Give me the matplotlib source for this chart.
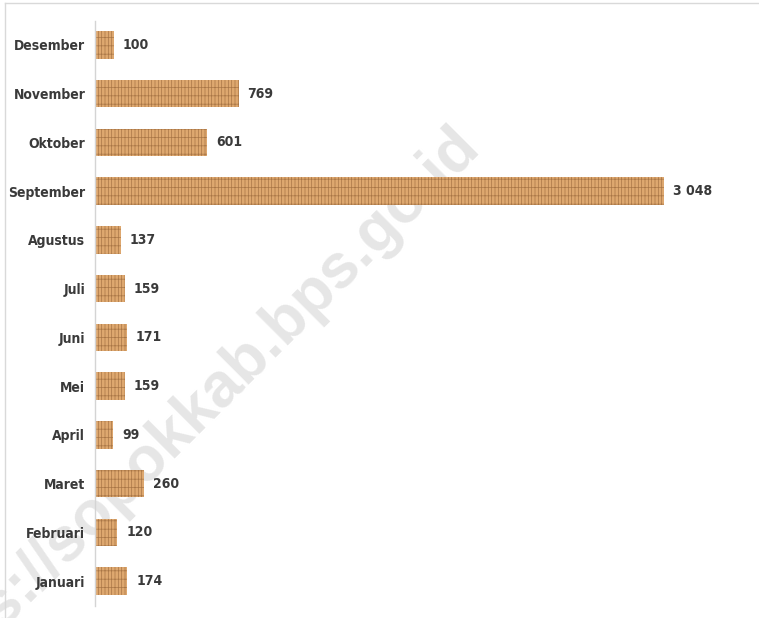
import matplotlib
matplotlib.use("Agg")
import matplotlib.pyplot as plt
from matplotlib.lines import Line2D

months = ["Januari", "Februari", "Maret", "April", "Mei", "Juni",
          "Juli", "Agustus", "September", "Oktober", "November", "Desember"]
values = [174, 120, 260, 99, 159, 171, 159, 137, 3048, 601, 769, 100]

plt.rcParams['hatch.linewidth'] = 0.5
FONT = ['DejaVu Sans']
TXT = '#3a3a3a'

fig = plt.figure(figsize=(7.59, 6.18), dpi=100)
W, H = 759, 618
left, right, top, bottom = 95, 740, 20.5, 605.5
ax = fig.add_axes([left / W, 1 - bottom / H, (right - left) / W, (bottom - top) / H])
ax.patch.set_alpha(0)

# watermark
ax.text(188 / W, 1 - 418 / H, "https://sopokkab.bps.go.id", transform=fig.transFigure,
        rotation=45, rotation_mode='anchor', ha='center', va='center',
        fontsize=45, fontweight='bold', color='#e6e6e6',
        family=['Liberation Sans', 'DejaVu Sans'], zorder=0.5, clip_on=False)

y = list(range(len(months)))
ax.barh(y, values, height=0.56, color='#dea86f', edgecolor='#a97646',
        hatch='|||||--', linewidth=0, zorder=2)

xmax = 3048 * (right - left) / (664 - left)
ax.set_xlim(0, xmax)
ax.set_ylim(-0.5, len(months) - 0.5)

for yi, v in zip(y, values):
    lab = f"{v:,}".replace(",", " ")
    ax.annotate(lab, (v, yi), xytext=(6.5, 0), textcoords='offset points',
                ha='left', va='center', fontsize=10, fontweight='bold',
                fontstretch='condensed', color=TXT, family=FONT)

ax.set_yticks(y)
ax.set_yticklabels(months, fontsize=10, fontweight='bold', fontstretch='condensed',
                   color=TXT, family=FONT)
ax.tick_params(axis='y', length=0, pad=7)
ax.set_xticks([])
for s in ['top', 'right', 'bottom']:
    ax.spines[s].set_visible(False)
ax.spines['left'].set_color('#d4d4d4')
ax.spines['left'].set_linewidth(1)

# outer border lines (top and left)
fig.add_artist(Line2D([5 / W, 1], [1 - 3 / H, 1 - 3 / H], transform=fig.transFigure,
                      color='#d9d9d9', lw=1))
fig.add_artist(Line2D([5 / W, 5 / W], [0, 1 - 3 / H], transform=fig.transFigure,
                      color='#d9d9d9', lw=1))

fig.savefig("out.png", dpi=100)
